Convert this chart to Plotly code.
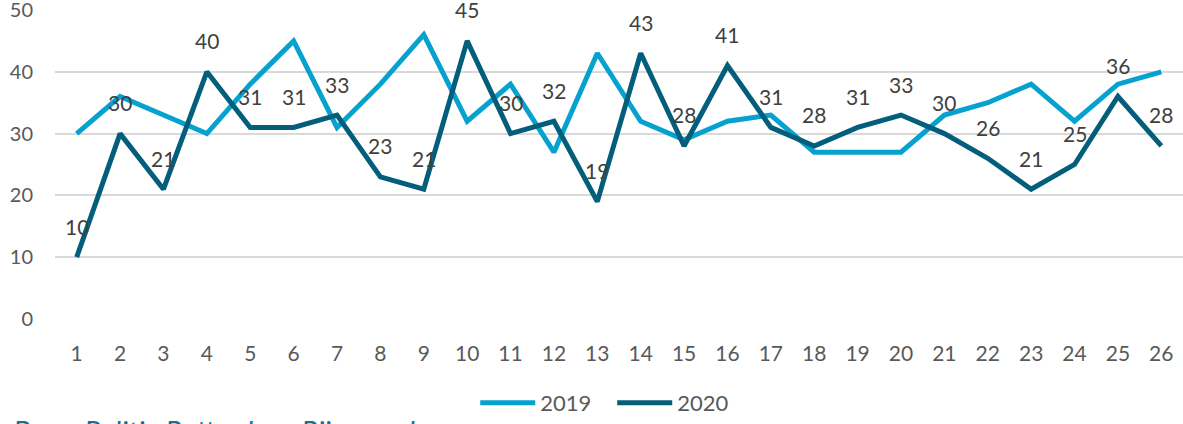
import plotly.graph_objects as go

weeks = [str(i) for i in range(1, 27)]
y2019 = [30, 36, 33, 30, 38, 45, 31, 38, 46, 32, 38, 27, 43, 32, 29, 32, 33, 27, 27, 27, 33, 35, 38, 32, 38, 40]
y2020 = [10, 30, 21, 40, 31, 31, 33, 23, 21, 45, 30, 32, 19, 43, 28, 41, 31, 28, 31, 33, 30, 26, 21, 25, 36, 28]
y_ticks = [0, 10, 20, 30, 40, 50]

C2019 = "#06A2CF"
C2020 = "#035E7B"
FONT = "Lato"
TXT = "#595959"
FS = 20

fig = go.Figure()
fig.add_trace(go.Scatter(x=weeks, y=y2019, name="2019", mode="lines",
                         line=dict(color=C2019, width=5)))
fig.add_trace(go.Scatter(x=weeks, y=y2020, name="2020", mode="lines",
                         line=dict(color=C2020, width=5)))

# value labels above the 2020 points (category index positions)
for i, v in enumerate(y2020):
    fig.add_annotation(x=i, y=v, text=str(v), showarrow=False, yshift=31,
                       font=dict(family=FONT, size=21, color="#404040"))

fig.add_annotation(xref="paper", yref="paper", x=-0.039, y=-0.298,
                   xanchor="left", yanchor="top", showarrow=False,
                   text="<i>Bron: Politie Rotterdam-Rijnmond</i>",
                   font=dict(family=FONT, size=29, color="#1F6E8C"))

fig.update_layout(
    width=1183, height=424,
    margin=dict(l=55, r=0, t=10, b=101),
    paper_bgcolor="white", plot_bgcolor="white",
    font=dict(family=FONT, size=FS, color=TXT),
    showlegend=True,
    legend=dict(orientation="h", x=0.494, y=-0.272, xanchor="center", yanchor="middle",
                font=dict(family=FONT, size=22, color=TXT), itemwidth=55,
                entrywidth=67, tracegroupgap=0),
    xaxis=dict(type="category", range=[-0.5, 25.5], showgrid=False, showline=False,
               zeroline=False, ticks="", ticklabelstandoff=20, automargin=False,
               tickfont=dict(family=FONT, size=21, color=TXT)),
    yaxis=dict(range=[0, 50], tickvals=y_ticks, showgrid=True, gridcolor="#D9D9D9",
               gridwidth=2, zeroline=False, showline=False, ticks="",
               ticklabeloverflow="allow", ticklabelstandoff=21, automargin=False,
               tickfont=dict(family=FONT, size=FS, color=TXT)),
)

fig.write_html("out.html")
